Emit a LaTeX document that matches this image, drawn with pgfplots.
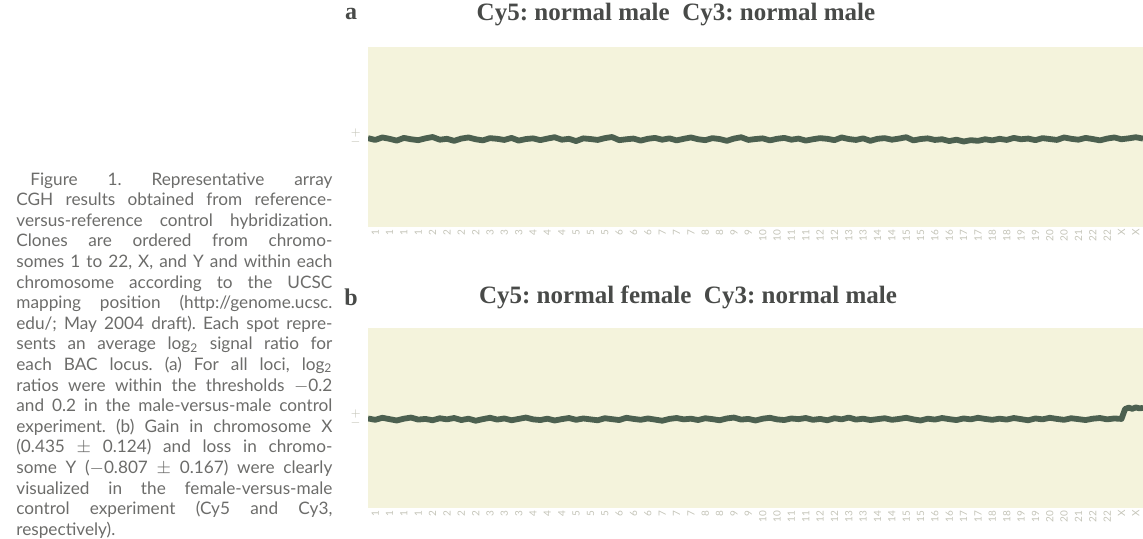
\documentclass[border=0pt]{standalone}
\usepackage{fontspec}
\setmainfont{Lato}
\newfontfamily\titlefont{Liberation Serif}
\usepackage{pgfplots}
\pgfplotsset{compat=1.18}

\definecolor{capgray}{RGB}{108,108,106}
\definecolor{titlegray}{RGB}{72,74,72}
\definecolor{bgyellow}{RGB}{244,243,220}
\definecolor{linegreen}{RGB}{76,96,80}
\definecolor{tickgray}{RGB}{196,196,184}

\newcommand\jl[1]{\makebox[158pt][s]{#1}}

\pgfplotsset{cghpanel/.style={
    scale only axis, width=387.5pt, height=90pt,
    xmin=0, xmax=216, ymin=-4, ymax=4,
    axis line style={draw=none}, tick style={draw=none},
    axis background/.style={fill=bgyellow},
    xtick={2,6,...,214},
    xticklabels={1,1,1,1,2,2,2,2,3,3,3,4,4,4,5,5,5,6,6,6,7,7,7,8,8,9,9,10,10,11,11,12,12,13,13,14,14,15,15,16,16,17,17,18,18,19,19,20,20,21,22,22,X,X},
    x tick label style={rotate=90, anchor=east, font=\fontsize{5}{5}\selectfont, text=tickgray, inner sep=1pt},
    ytick={-0.2,0.2}, yticklabels={$-$,$+$},
    y tick label style={font=\fontsize{4}{4}\selectfont, text=tickgray},
    clip=true,
}}

\begin{document}
\frenchspacing
\begin{tikzpicture}
\useasboundingbox (0pt,0pt) rectangle (571.5pt,-269pt);

% caption
\node[anchor=north west, inner sep=0pt, align=left, text=capgray,
      font=\fontsize{8.6}{10.3}\selectfont] at (8pt,-86pt) {%
\jl{\hspace*{7pt}Figure 1. Representative array}\\
\jl{CGH results obtained from reference-}\\
\jl{versus-reference control hybridization.}\\
\jl{Clones are ordered from chromo-}\\
\jl{somes 1 to 22, X, and Y and within each}\\
\jl{chromosome according to the UCSC}\\
\jl{mapping position (http://genome.ucsc.}\\
\jl{edu/; May 2004 draft). Each spot repre-}\\
\jl{sents an average log\textsubscript{2} signal ratio for}\\
\jl{each BAC locus. (a) For all loci, log\textsubscript{2}}\\
\jl{ratios were within the thresholds $-$0.2}\\
\jl{and 0.2 in the male-versus-male control}\\
\jl{experiment. (b) Gain in chromosome X}\\
\jl{(0.435 $\pm$ 0.124) and loss in chromo-}\\
\jl{some Y ($-$0.807 $\pm$ 0.167) were clearly}\\
\jl{visualized in the female-versus-male}\\
\jl{control experiment (Cy5 and Cy3,}\\
respectively).};

% panel labels and titles
\node[font=\titlefont\bfseries\fontsize{12}{12}\selectfont, text=titlegray] at (175.5pt,-7pt) {a};
\node[font=\titlefont\bfseries\fontsize{12}{12}\selectfont, text=titlegray] at (175.5pt,-148.5pt) {b};
\node[font=\titlefont\bfseries\fontsize{12.5}{12}\selectfont, text=titlegray] at (338pt,-7.5pt) {Cy5: normal male\enspace Cy3: normal male};
\node[font=\titlefont\bfseries\fontsize{12.5}{12}\selectfont, text=titlegray] at (344pt,-148.5pt) {Cy5: normal female\enspace Cy3: normal male};

% panel a
\begin{axis}[cghpanel, at={(184pt,-113.5pt)}, anchor=south west]
\addplot[linegreen, line width=2.9pt, line join=round] coordinates {
(0,-0.05) (2,-0.13) (4,-0.02) (6,-0.08) (8,-0.16) (10,-0.04) (12,-0.10) (14,-0.14)
(16,-0.06) (18,0.00) (20,-0.12) (22,-0.08) (24,-0.17) (26,-0.07) (28,-0.02) (30,-0.10)
(32,-0.15) (34,-0.05) (36,-0.08) (38,-0.13) (40,-0.04) (42,-0.16) (44,-0.09) (46,-0.06)
(48,-0.14) (50,-0.07) (52,-0.01) (54,-0.12) (56,-0.08) (58,-0.18) (60,-0.06) (62,-0.09)
(64,-0.13) (66,-0.05) (68,0.00) (70,-0.14) (72,-0.10) (74,-0.07) (76,-0.16) (78,-0.08)
(80,-0.04) (82,-0.12) (84,-0.06) (86,-0.15) (88,-0.08) (90,-0.02) (92,-0.10) (94,-0.14)
(96,-0.05) (98,-0.09) (100,-0.17) (102,-0.07) (104,-0.01) (106,-0.13) (108,-0.09) (110,-0.06)
(112,-0.15) (114,-0.08) (116,-0.04) (118,-0.12) (120,-0.07) (122,-0.16) (124,-0.10) (126,-0.05)
(128,-0.08) (130,-0.14) (132,-0.02) (134,-0.09) (136,-0.13) (138,-0.06) (140,-0.17) (142,-0.08)
(144,-0.05) (146,-0.12) (148,-0.07) (150,-0.01) (152,-0.15) (154,-0.09) (156,-0.06) (158,-0.13)
(160,-0.10) (162,-0.18) (164,-0.12) (166,-0.20) (168,-0.14) (170,-0.17) (172,-0.10) (174,-0.15)
(176,-0.08) (178,-0.13) (180,-0.04) (182,-0.10) (184,-0.07) (186,-0.14) (188,-0.05) (190,-0.09)
(192,-0.13) (194,-0.02) (196,-0.08) (198,-0.12) (200,-0.04) (202,-0.09) (204,-0.15) (206,-0.07)
(208,-0.02) (210,-0.10) (212,-0.06) (214,-0.01) (216,-0.07)
};
\end{axis}

% panel b
\begin{axis}[cghpanel, at={(184pt,-254pt)}, anchor=south west]
\addplot[linegreen, line width=2.9pt, line join=round] coordinates {
(0,-0.02) (2,-0.08) (4,0.01) (6,-0.05) (8,-0.11) (10,-0.03) (12,0.02) (14,-0.07)
(16,-0.04) (18,-0.10) (20,-0.01) (22,-0.06) (24,0.00) (26,-0.09) (28,-0.03) (30,-0.12)
(32,-0.05) (34,0.01) (36,-0.07) (38,-0.02) (40,-0.10) (42,-0.04) (44,0.02) (46,-0.06)
(48,-0.09) (50,-0.03) (52,-0.11) (54,-0.05) (56,0.00) (58,-0.08) (60,-0.02) (62,-0.06)
(64,-0.10) (66,-0.01) (68,-0.05) (70,-0.09) (72,0.01) (74,-0.04) (76,-0.08) (78,-0.02)
(80,-0.07) (82,-0.12) (84,-0.04) (86,0.00) (88,-0.06) (90,-0.03) (92,-0.09) (94,-0.01)
(96,-0.05) (98,-0.10) (100,-0.02) (102,0.02) (104,-0.07) (106,-0.04) (108,-0.11) (110,-0.03)
(112,0.01) (114,-0.06) (116,-0.09) (118,-0.02) (120,-0.05) (122,0.00) (124,-0.08) (126,-0.04)
(128,-0.10) (130,-0.01) (132,-0.06) (134,0.02) (136,-0.07) (138,-0.03) (140,-0.09) (142,-0.05)
(144,-0.01) (146,-0.08) (148,-0.04) (150,0.01) (152,-0.06) (154,-0.11) (156,-0.03) (158,-0.07)
(160,0.00) (162,-0.05) (164,-0.09) (166,-0.02) (168,-0.06) (170,0.01) (172,-0.04) (174,-0.08)
(176,-0.03) (178,-0.07) (180,0.00) (182,-0.05) (184,-0.10) (186,-0.02) (188,-0.06) (190,0.01)
(192,-0.04) (194,-0.08) (196,-0.01) (198,-0.05) (200,-0.09) (202,-0.03) (204,0.00) (206,-0.06)
(208,-0.02) (210,-0.04) (211,0.40) (212,0.46) (213,0.41) (214,0.47) (215,0.43) (216,0.45)
};
\end{axis}
\end{tikzpicture}
\end{document}
